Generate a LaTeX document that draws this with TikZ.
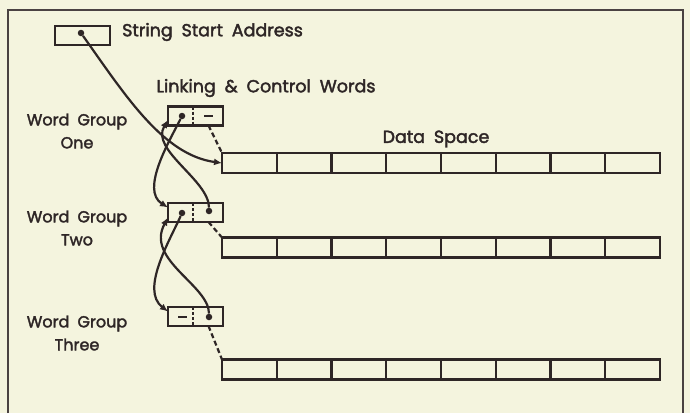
\documentclass[tikz,border=0pt]{standalone}
\usepackage{fontspec}
\setmainfont{Poppins}[FakeBold=2.2,WordSpace=1.9]
\usetikzlibrary{arrows.meta}
\definecolor{paper}{HTML}{F4F4DE}
\definecolor{ink}{HTML}{2E2626}
\definecolor{framecol}{HTML}{4A4242}

\begin{document}
\begin{tikzpicture}[x=1pt,y=-1pt,
  lbl/.style={text=ink,font=\fontsize{16}{23}\selectfont,inner sep=0pt},
  head/.style={text=ink,font=\fontsize{17.5}{23}\selectfont,inner sep=0pt},
  wordbox/.style={draw=ink,line width=2.4pt,minimum width=55pt,minimum height=19pt,inner sep=0pt,outer sep=0pt},
  cell/.style={draw=ink,line width=2.4pt,minimum width=54.75pt,minimum height=20pt,inner sep=0pt,outer sep=0pt},
  ptr/.style={circle,fill=ink,inner sep=0pt,minimum size=6.5pt},
  nullptr/.style={rectangle,fill=ink,inner sep=0pt,minimum width=9pt,minimum height=2.4pt},
  divider/.style={draw=ink,line width=2pt,dash pattern=on 3pt off 2pt},
  link/.style={draw=ink,line width=2.2pt,-{Latex[length=8pt,width=7pt]}},
  dashlink/.style={draw=ink,line width=2.2pt,dash pattern=on 5pt off 3pt}]

% page and frame
\fill[paper] (0,0) rectangle (690,413);
\useasboundingbox (0,0) rectangle (690,413);
\draw[framecol,line width=1.8pt] (8,413) -- (8,10) -- (683,10) -- (683,413);

% string start address
\node[wordbox] (sa) at (82.5,35.5) {};
\node[ptr] (sadot) at (81,33) {};
\node[head,anchor=west] (satxt) at (122,32) {String Start Address};

% headings
\node[head] (lcw) at (266,88) {Linking \& Control Words};
\node[head] (ds) at (436,139) {Data Space};
\node[lbl,align=center] (wg1) at (77,131) {Word Group\\One};
\node[lbl,align=center] (wg2) at (77,228) {Word Group\\Two};
\node[lbl,align=center] (wg3) at (77,333) {Word Group\\Three};

% linking and control words
\foreach \g/\y in {1/116,2/212.5,3/316.5}{
  \node[wordbox] (g\g) at (195.5,\y) {};
  \draw[divider] ([xshift=-2.5pt]g\g.north) -- ([xshift=-2.5pt]g\g.south);
}
\node[ptr] (g1f) at (182,116) {};
\node[nullptr] (g1b) at (208,116) {};
\node[ptr] (g2f) at (182,213) {};
\node[ptr] (g2b) at (209,211) {};
\node[nullptr] (g3f) at (182,317) {};
\node[ptr] (g3b) at (209,317) {};

% data space rows
\foreach \r/\y in {1/163,2/247.5,3/369.5}{
  \foreach \c in {1,...,8}{
    \node[cell] (r\r-\c) at ({222+54.75*(\c-0.5)},\y) {};
  }
}

% pointers
\draw[link] (sadot) .. controls (125,95) and (163,155) .. (r1-1.west);
\draw[link] (g1f) .. controls (170,140) and (140,190) .. ([yshift=5pt]g2.west);
\draw[link] (g2b) .. controls (209,180) and (150,150) .. ([yshift=-4pt]g1.west);
\draw[link] (g2f) .. controls (170,240) and (140,290) .. ([yshift=5pt]g3.west);
\draw[link] (g3b) .. controls (209,285) and (145,260) .. ([yshift=-5pt]g2.west);

% links to data space
\draw[dashlink] ([xshift=13pt]g1.south) -- (r1-1.north west);
\draw[dashlink] ([xshift=13pt]g2.south) -- (r2-1.north west);
\draw[dashlink] ([xshift=13pt]g3.south) -- (r3-1.north west);
\end{tikzpicture}
\end{document}
